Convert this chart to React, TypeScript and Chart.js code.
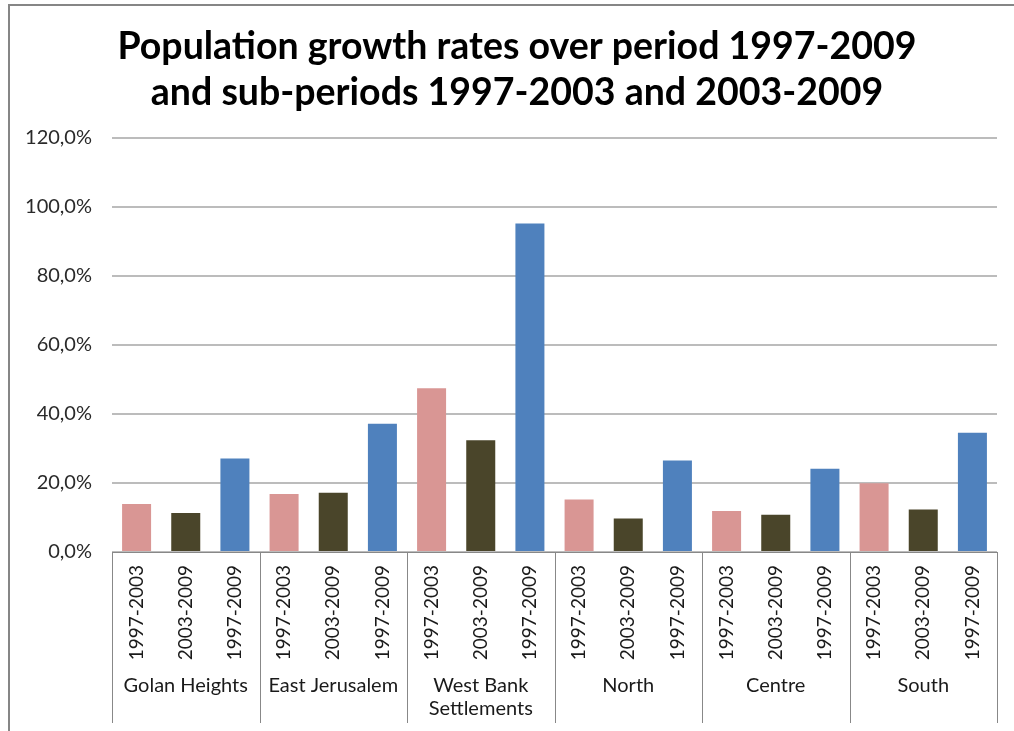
import React, { useEffect, useRef } from "react";
import { Chart, registerables } from "chart.js";

Chart.register(...registerables);

const titleLines = [
  "Population growth rates over period 1997-2009",
  "and sub-periods 1997-2003 and 2003-2009",
];
const regions: (string | string[])[] = [
  "Golan Heights",
  "East Jerusalem",
  ["West Bank", "Settlements"],
  "North",
  "Centre",
  "South",
];
const periods = ["1997-2003", "2003-2009", "1997-2009"];
const rate1997to2003 = [13.9, 16.8, 47.5, 15.2, 11.9, 19.9];
const rate2003to2009 = [11.3, 17.2, 32.4, 9.7, 10.8, 12.3];
const rate1997to2009 = [27.1, 37.2, 95.2, 26.5, 24.1, 34.6];
const periodColors = ["#D99694", "#4A452A", "#4F81BD"];
const yTickMax = 120;
const yTickStep = 20;

const FONT = "Lato, 'Open Sans', sans-serif";

const titlePlugin = {
  id: "centeredTitle",
  afterDraw(chart: any) {
    const { ctx } = chart;
    ctx.save();
    ctx.fillStyle = "#000000";
    ctx.font = `bold 37.5px ${FONT}`;
    ctx.textAlign = "center";
    ctx.textBaseline = "middle";
    titleLines.forEach((t, i) => {
      ctx.fillText(t, chart.width / 2, 40 + i * 45.75);
    });
    ctx.restore();
  },
};

const groupPlugin = {
  id: "groupLabels",
  afterDraw(chart: any) {
    const { ctx } = chart;
    const x = chart.scales.x;
    const top = x.top;
    const bottom = top + 171;
    ctx.save();
    ctx.strokeStyle = "#888888";
    ctx.lineWidth = 1;
    for (let g = 0; g <= regions.length; g++) {
      const px = Math.round(x.getPixelForValue(g * periods.length - 0.5)) + 0.5;
      ctx.beginPath();
      ctx.moveTo(px, top);
      ctx.lineTo(px, bottom);
      ctx.stroke();
    }
    ctx.fillStyle = "#1a1a1a";
    ctx.font = `20px ${FONT}`;
    ctx.textAlign = "center";
    ctx.textBaseline = "alphabetic";
    regions.forEach((r, g) => {
      const cx =
        (x.getPixelForValue(g * periods.length - 0.5) +
          x.getPixelForValue((g + 1) * periods.length - 0.5)) /
        2;
      const lines = Array.isArray(r) ? r : [r];
      lines.forEach((t, i) => {
        ctx.fillText(t, cx, top + 140 + i * 23);
      });
    });
    ctx.restore();
  },
};

export default function App() {
  const ref = useRef<HTMLCanvasElement>(null);
  useEffect(() => {
    if (!ref.current) return;
    const labels: string[] = [];
    const values: number[] = [];
    const colors: string[] = [];
    const series = [rate1997to2003, rate2003to2009, rate1997to2009];
    regions.forEach((_, g) => {
      periods.forEach((p, k) => {
        labels.push(p);
        values.push(series[k][g]);
        colors.push(periodColors[k]);
      });
    });
    const chart = new Chart(ref.current, {
      type: "bar",
      data: {
        labels,
        datasets: [
          {
            data: values,
            backgroundColor: colors,
            barPercentage: 0.59,
            categoryPercentage: 1,
          },
        ],
      },
      plugins: [titlePlugin, groupPlugin],
      options: {
        animation: false,
        responsive: false,
        devicePixelRatio: 1,
        layout: { padding: { left: 0, right: 27, top: 131, bottom: 0 } },
        plugins: {
          legend: { display: false },
          tooltip: { enabled: false },
          title: { display: false },
        },
        scales: {
          x: {
            grid: { display: false, drawTicks: false },
            border: { display: true, color: "#888888", width: 1 },
            ticks: {
              color: "#1a1a1a",
              font: { family: FONT, size: 19 },
              minRotation: 90,
              maxRotation: 90,
              autoSkip: false,
              padding: 13,
            },
            afterFit: (s: any) => {
              s.height = 179;
            },
          },
          y: {
            min: 0,
            max: yTickMax,
            grid: { color: "#bcbcbc", lineWidth: 2, drawTicks: false },
            border: { display: false },
            ticks: {
              stepSize: yTickStep,
              color: "#2a2a2a",
              font: { family: FONT, size: 20 },
              padding: 20,
              callback: (v: any) => Number(v).toFixed(1).replace(".", ",") + "%",
            },
            afterFit: (s: any) => {
              s.width = 102;
            },
          },
        },
      },
    });
    return () => chart.destroy();
  }, []);
  return (
    <div
      style={{
        position: "fixed",
        left: 0,
        top: 0,
        width: 1014,
        height: 731,
        overflow: "hidden",
        background: "#ffffff",
      }}
    >
      <div
        style={{
          position: "absolute",
          left: 8,
          top: 4,
          width: 2000,
          height: 2000,
          borderLeft: "2px solid #868686",
          borderTop: "2px solid #868686",
        }}
      />
      <canvas
        ref={ref}
        width={1014}
        height={724}
        style={{ position: "absolute", left: 10, top: 7, width: 1014, height: 724 }}
      />
    </div>
  );
}
